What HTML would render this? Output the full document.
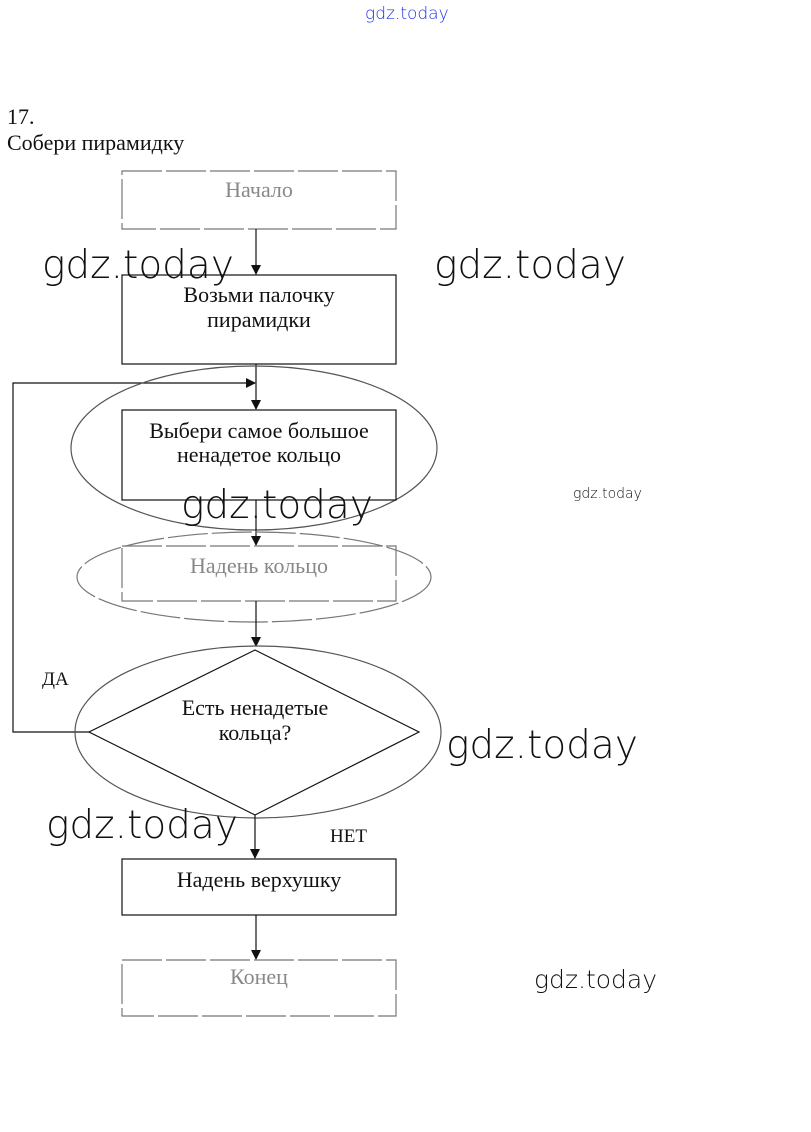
<!DOCTYPE html>
<html><head><meta charset="utf-8"><style>
html,body{margin:0;padding:0;background:#fff;}
svg{display:block;}
.t{font-family:"Liberation Serif",serif;font-size:22px;fill:#111;}
.w{font-family:"DejaVu Sans","Liberation Sans",sans-serif;fill:#111;font-weight:200;}
</style></head><body>
<svg width="811" height="1132" viewBox="0 0 811 1132" xmlns="http://www.w3.org/2000/svg">
<defs><marker id="a" markerWidth="10" markerHeight="10" refX="9" refY="5" orient="auto" markerUnits="userSpaceOnUse"><path d="M0,0 L10,5 L0,10 z" fill="#111"/></marker></defs>
<text x="365" y="19" class="w" style="font-size:17px;fill:#2233dd">gdz.today</text>
<text x="7" y="124" class="t" style="font-size:22px">17.</text>
<text x="7" y="150" class="t" style="font-size:22px">Собери пирамидку</text>
<g fill="none" stroke="#111" stroke-width="1.2">
<rect x="122" y="171" width="274" height="58" stroke="#777" stroke-dasharray="40,4"/>
<line x1="256" y1="229" x2="256" y2="274" marker-end="url(#a)"/>
<rect x="122" y="275" width="274" height="89"/>
<line x1="256" y1="364" x2="256" y2="409" marker-end="url(#a)"/>
<polyline points="90,732 13,732 13,383 255,383" marker-end="url(#a)"/>
<ellipse cx="254" cy="448" rx="183" ry="82" stroke="#555"/>
<rect x="122" y="410" width="274" height="90"/>
<line x1="256" y1="500" x2="256" y2="545" marker-end="url(#a)"/>
<ellipse cx="254" cy="577" rx="177" ry="45" stroke="#777" stroke-dasharray="40,4"/>
<rect x="122" y="546" width="274" height="55" stroke="#777" stroke-dasharray="40,4"/>
<line x1="256" y1="601" x2="256" y2="646" marker-end="url(#a)"/>
<ellipse cx="258" cy="732" rx="183" ry="86" stroke="#555"/>
<polygon points="255,650 419,732 255,815 89,732"/>
<line x1="255" y1="815" x2="255" y2="858" marker-end="url(#a)"/>
<rect x="122" y="859" width="274" height="56"/>
<line x1="256" y1="915" x2="256" y2="959" marker-end="url(#a)"/>
<rect x="122" y="960" width="274" height="56" stroke="#777" stroke-dasharray="40,4"/>
</g>
<g class="t" text-anchor="middle">
<text x="259" y="197" style="fill:#888">Начало</text>
<text x="259" y="302">Возьми палочку</text>
<text x="259" y="327">пирамидки</text>
<text x="259" y="438">Выбери самое большое</text>
<text x="259" y="462">ненадетое кольцо</text>
<text x="259" y="573" style="fill:#888">Надень кольцо</text>
<text x="255" y="715">Есть ненадетые</text>
<text x="255" y="740">кольца?</text>
<text x="259" y="887">Надень верхушку</text>
<text x="259" y="984" style="fill:#888">Конец</text>
</g>
<text x="42" y="685" class="t" style="font-size:19px">ДА</text>
<text x="330" y="842" class="t" style="font-size:19px">НЕТ</text>
<g class="w" style="font-size:39px">
<text x="42" y="278">gdz.today</text>
<text x="434" y="278">gdz.today</text>
<text x="181" y="518">gdz.today</text>
<text x="446" y="758">gdz.today</text>
<text x="46" y="838">gdz.today</text>
</g>
<text x="573" y="498" class="w" style="font-size:14px">gdz.today</text>
<text x="534" y="988" class="w" style="font-size:25px">gdz.today</text>
</svg>
</body></html>
